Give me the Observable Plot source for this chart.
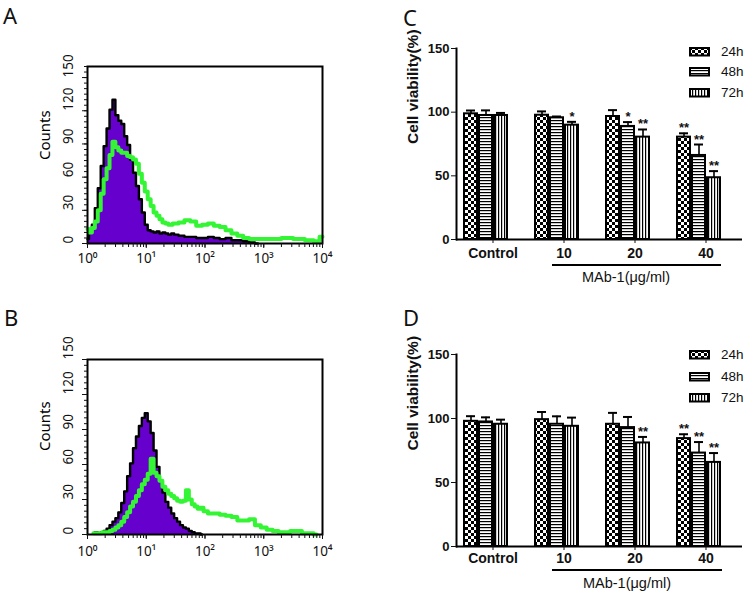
<!DOCTYPE html>
<html>
<head>
<meta charset="utf-8">
<script src="https://cdn.jsdelivr.net/npm/d3@7"></script>
<script src="https://cdn.jsdelivr.net/npm/@observablehq/plot@0.6"></script>
<style>
  body { margin: 0; background: #fff; }
  #fig { position: relative; width: 750px; height: 595px; overflow: hidden; background: #fff; }
  .panel { position: absolute; }
  .letter { position: absolute; font-family: "Noto Sans", "Open Sans", sans-serif; font-size: 22px; line-height: 1; color: #111; }
  .legend { position: absolute; font-family: "Liberation Sans", Arial, sans-serif; font-size: 13.5px; color: #111; }
  .legrow { position: absolute; left: 0; height: 10px; white-space: nowrap; }
  .legrow svg { position: absolute; left: 0; top: 0; overflow: visible; }
  .legrow span { position: absolute; left: 32px; top: -3px; line-height: 16px; }
  .uline { position: absolute; height: 2px; background: #000; }
  .mab { position: absolute; font-family: "Liberation Sans", Arial, sans-serif; font-size: 14.5px; color: #111; transform: translate(-50%, -50%); white-space: nowrap; }
</style>
</head>
<body>
<svg width="0" height="0" style="position:absolute">
  <defs>
    <pattern id="pChk" patternUnits="userSpaceOnUse" width="6" height="6">
      <rect width="6" height="6" fill="#fff"/>
      <rect width="3" height="3" fill="#000"/>
      <rect x="3" y="3" width="3" height="3" fill="#000"/>
    </pattern>
    <pattern id="pHor" patternUnits="userSpaceOnUse" width="6" height="3">
      <rect width="6" height="3" fill="#fff"/>
      <rect width="6" height="1.2" fill="#000"/>
    </pattern>
    <pattern id="pVer" patternUnits="userSpaceOnUse" width="3" height="6">
      <rect width="3" height="6" fill="#fff"/>
      <rect width="1.2" height="6" fill="#000"/>
    </pattern>
  </defs>
</svg>
<div id="fig"></div>
<script>
// ---------- Flow cytometry histograms (A, B) ----------
const histTicksX = [1, 10, 100, 1000, 10000];
const histTickLabelsX = ["10⁰", "10¹", "10²", "10³", "10⁴"];
const histTicksY = [0, 30, 60, 90, 120, 150];

// Panel A: log10 fluorescence position, counts
const aPurpleLog = [0,0.05,0.1,0.15,0.2,0.25,0.3,0.35,0.4,0.45,0.5,0.55,0.6,0.65,0.7,0.75,0.8,0.85,0.9,0.95,1,1.05,1.1,1.15,1.2,1.25,1.3,1.35,1.4,1.45,1.5,1.6,1.7,1.8,1.9,2,2.1,2.2,2.3,2.4,2.5,2.6,2.7,2.8,2.9];
const aPurpleCount = [4,10,17,32,50,70,88,104,121,130,116,111,108,97,89,76,64,52,40,28,17,12,11,10,11,9,10,9,8,9,8,7,6,6,5,5,6,5,4,5,3,3,2,1,0];
const aGreenLog = [0,0.05,0.1,0.15,0.2,0.25,0.3,0.35,0.4,0.45,0.5,0.55,0.6,0.65,0.7,0.75,0.8,0.85,0.9,0.95,1,1.05,1.1,1.15,1.2,1.25,1.3,1.35,1.4,1.5,1.6,1.7,1.8,1.9,2,2.1,2.2,2.3,2.4,2.5,2.6,2.7,2.8,2.9,3,3.2,3.4,3.6,3.8,3.9,4];
const aGreenCount = [13,10,14,20,30,45,58,68,80,92,87,84,82,82,79,78,76,72,63,55,47,40,34,28,25,22,19,18,17,18,19,21,20,16,17,18,16,15,12,9,7,5,4,4,4,4,5,4,3,2,6];

// Panel B
const bPurpleLog = [0.1,0.15,0.2,0.25,0.3,0.35,0.4,0.45,0.5,0.55,0.6,0.65,0.7,0.75,0.8,0.85,0.9,0.95,1,1.05,1.1,1.15,1.2,1.25,1.3,1.35,1.4,1.45,1.5,1.55,1.6,1.65,1.7,1.75,1.8,1.85,1.9,1.95];
const bPurpleCount = [1,2,1,2,3,5,8,11,14,19,27,37,50,61,74,84,93,100,104,97,87,72,58,46,36,28,23,18,14,11,8,6,5,3,2,1,1,0];
const bGreenLog = [0.1,0.2,0.3,0.35,0.4,0.45,0.5,0.55,0.6,0.65,0.7,0.75,0.8,0.85,0.9,0.95,1,1.05,1.1,1.15,1.2,1.25,1.3,1.35,1.4,1.45,1.5,1.55,1.6,1.65,1.7,1.75,1.8,1.85,1.9,1.95,2,2.1,2.2,2.3,2.4,2.5,2.6,2.7,2.8,2.9,3,3.1,3.2,3.3,3.4,3.5,3.6,3.7,3.8,3.9];
const bGreenCount = [1,1,2,2,3,4,6,8,11,15,19,24,28,33,38,43,47,52,65,53,50,46,41,38,35,33,31,29,28,29,38,30,26,24,22,23,20,18,18,17,16,15,12,12,13,8,6,4,3,2,2,3,3,1,1,0];

// ---------- Cell viability bar charts (C, D) ----------
const groups = ["Control", "10", "20", "40"];
const seriesNames = ["24h", "48h", "72h"];
const barTicks = [0, 50, 100, 150];

const cMean24 = [98.7, 97.6, 96.6, 80.4];
const cMean48 = [97.4, 95.6, 88.8, 66.0];
const cMean72 = [97.4, 89.8, 80.4, 48.5];
const cErr24 = [2.6, 3.0, 5.0, 3.0];
const cErr48 = [4.0, 1.0, 3.4, 8.6];
const cErr72 = [2.0, 2.6, 6.0, 5.2];
const cSig24 = ["", "", "", "**"];
const cSig48 = ["", "", "*", "**"];
const cSig72 = ["", "*", "**", "**"];

const dMean24 = [97.8, 99.1, 95.5, 84.3];
const dMean48 = [97.3, 95.5, 92.9, 73.0];
const dMean72 = [95.5, 93.9, 80.9, 65.7];
const dErr24 = [4.0, 6.0, 8.9, 3.4];
const dErr48 = [3.6, 6.2, 8.3, 8.6];
const dErr72 = [3.6, 6.8, 4.7, 7.3];
const dSig24 = ["", "", "", "**"];
const dSig48 = ["", "", "", "**"];
const dSig72 = ["", "", "**", "**"];

const patterns = ["url(#pChk)", "url(#pHor)", "url(#pVer)"];

function hist(pLog, pCount, gLog, gCount, cfg) {
  const purple = pLog.map((e, i) => ({x: 10 ** e, c: pCount[i]}));
  const green = gLog.map((e, i) => ({x: 10 ** e, c: gCount[i]}));
  return Plot.plot({
    width: 340, height: cfg.height,
    marginLeft: 87, marginRight: 18, marginTop: cfg.mt, marginBottom: cfg.mb,
    style: {fontFamily: "Noto Sans, Open Sans, sans-serif", fontSize: "13px", color: "#111", background: "transparent", overflow: "visible"},
    x: {type: "log", domain: [1, 1e4]},
    y: {domain: [0, cfg.ymax]},
    marks: [
      Plot.areaY(purple, {x: "x", y: "c", curve: "step", fill: "#6600cc"}),
      Plot.lineY(purple, {x: "x", y: "c", curve: "step", stroke: "#000", strokeWidth: 2.4}),
      Plot.lineY(green, {x: "x", y: "c", curve: "step", stroke: "#33f533", strokeWidth: 4}),
      Plot.frame({stroke: "#000", strokeWidth: 2}),
      Plot.axisX({ticks: 40, tickFormat: () => "", tickSize: 4, label: null}),
      Plot.axisX({ticks: histTicksX, tickFormat: d => histTickLabelsX[histTicksX.indexOf(d)], tickSize: 5, tickPadding: cfg.xpad, fontSize: 13.5, label: null}),
      Plot.axisY({ticks: cfg.minorY, tickFormat: () => "", tickSize: 3, label: null}),
      Plot.axisY({ticks: histTicksY, tickFormat: () => "", tickSize: 5, label: null}),
      Plot.text(histTicksY, {y: d => d, text: d => String(d), frameAnchor: "left", rotate: -90, dx: -19, fontSize: 13.5}),
      Plot.text(["Counts"], {text: d => d, frameAnchor: "left", rotate: -90, dx: -42, dy: cfg.cdy, fontSize: 15, fill: "#000"})
    ]
  });
}

function bars(means, errs, sigs, cfg) {
  const marks = [];
  seriesNames.forEach((s, si) => {
    const rows = groups.map((g, gi) => ({group: g, value: means[si][gi], top: means[si][gi] + errs[si][gi], sig: sigs[si][gi]}));
    const inL = si * 15, inR = (2 - si) * 15, off = (si - 1) * 15;
    marks.push(
      Plot.ruleX(rows, {x: "group", y1: "value", y2: "top", dx: off, stroke: "#000", strokeWidth: 1.6}),
      Plot.tickY(rows, {x: "group", y: "top", insetLeft: inL + 2, insetRight: inR + 2, stroke: "#000", strokeWidth: 2}),
      Plot.barY(rows, {x: "group", y: "value", insetLeft: inL, insetRight: inR, fill: patterns[si], stroke: "#000", strokeWidth: 2}),
      Plot.text(rows.filter(r => r.sig), {x: "group", y: "top", text: "sig", dx: off, dy: -1, lineAnchor: "bottom", fontSize: 13, fontWeight: "bold"})
    );
  });
  return Plot.plot({
    width: 360, height: cfg.height,
    marginLeft: 66, marginRight: 8, marginTop: cfg.mt, marginBottom: cfg.mb,
    style: {fontFamily: "Liberation Sans, Arial, sans-serif", fontWeight: "bold", fontSize: "13px", color: "#111", background: "transparent", overflow: "visible"},
    x: {domain: groups, paddingInner: 0.394, paddingOuter: 0.211, align: 0.267},
    y: {domain: [0, 150]},
    marks: [
      ...marks,
      Plot.ruleY([0], {stroke: "#000", strokeWidth: 2}),
      Plot.frame({anchor: "left", stroke: "#000", strokeWidth: 2}),
      Plot.axisY({ticks: barTicks, tickSize: 5, tickPadding: 2, fontSize: 13, label: null}),
      Plot.axisX({tickSize: 4, tickPadding: cfg.pad, dx: 7, fontSize: 14, label: null}),
      Plot.text(["Cell viability(%)"], {text: d => d, frameAnchor: "left", rotate: -90, dx: -43, fontSize: 15.5, fontWeight: "bold", fill: "#111"})
    ]
  });
}

const fig = document.getElementById("fig");
function place(node, left, top) {
  const d = document.createElement("div");
  d.className = "panel";
  d.style.left = left + "px"; d.style.top = top + "px";
  d.appendChild(node);
  fig.appendChild(d);
}
function addEl(cls, html, style) {
  const d = document.createElement("div");
  d.className = cls; d.innerHTML = html;
  Object.assign(d.style, style);
  fig.appendChild(d);
}
function legend(left, tops) {
  const box = document.createElement("div");
  box.className = "legend";
  box.style.left = left + "px"; box.style.top = "0px";
  seriesNames.forEach((s, i) => {
    const r = document.createElement("div");
    r.className = "legrow";
    r.style.top = tops[i] + "px";
    r.innerHTML = `<svg width="21" height="9.5"><rect x="1" y="1" width="19" height="7.5" fill="${patterns[i]}" stroke="#000" stroke-width="2"/></svg><span>${s}</span>`;
    box.appendChild(r);
  });
  fig.appendChild(box);
}

place(hist(aPurpleLog, aPurpleCount, aGreenLog, aGreenCount, {height: 290, mt: 66, mb: 47, ymax: 160, minorY: 32, xpad: 5, cdy: 5}), 0, 0);
place(hist(bPurpleLog, bPurpleCount, bGreenLog, bGreenCount, {height: 305, mt: 69, mb: 61, ymax: 150, minorY: 30, xpad: 7, cdy: 4}), 0, 290);
place(bars([cMean24, cMean48, cMean72], [cErr24, cErr48, cErr72], [cSig24, cSig48, cSig72], {height: 290, mt: 48, mb: 51, pad: 5}), 390, 0);
place(bars([dMean24, dMean48, dMean72], [dErr24, dErr48, dErr72], [dSig24, dSig48, dSig72], {height: 305, mt: 64, mb: 49, pad: 3}), 390, 290);

addEl("letter", "A", {left: "3px", top: "4px"});
addEl("letter", "B", {left: "4px", top: "306px"});
addEl("letter", "C", {left: "403px", top: "6px"});
addEl("letter", "D", {left: "403px", top: "306px"});

legend(689, [47, 67, 87.5]);
legend(689, [350, 371.5, 393]);

addEl("uline", "", {left: "552px", top: "264px", width: "169px"});
addEl("mab", "MAb-1(μg/ml)", {left: "626px", top: "276.5px"});
addEl("uline", "", {left: "552px", top: "568.5px", width: "170px"});
addEl("mab", "MAb-1(μg/ml)", {left: "627px", top: "583.3px"});
</script>
</body>
</html>
